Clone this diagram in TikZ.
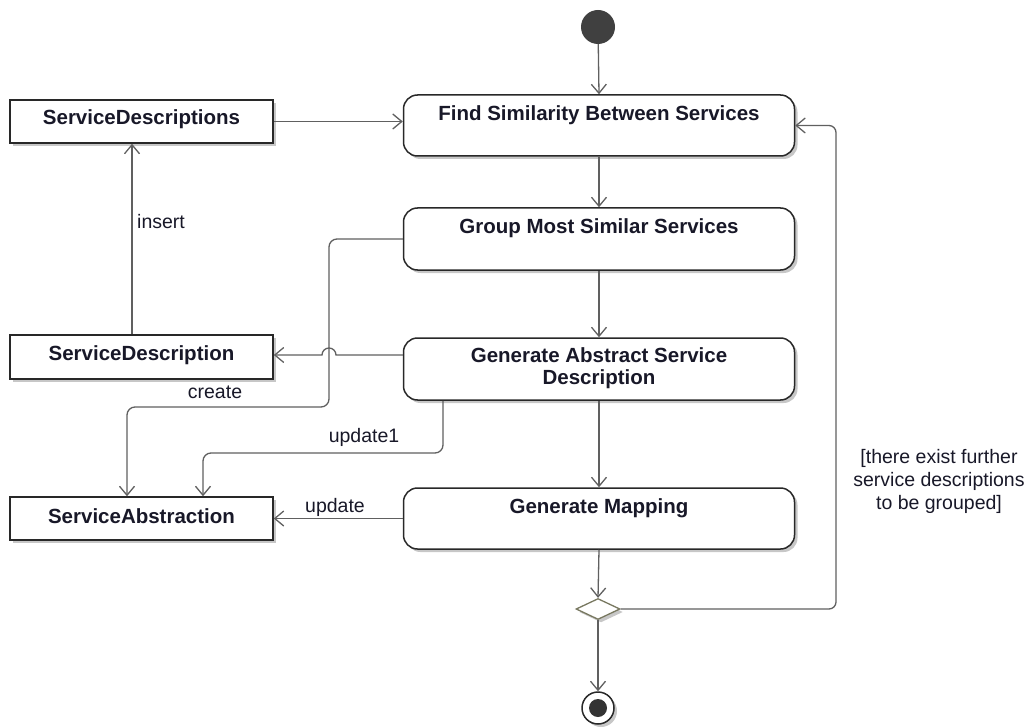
\documentclass[tikz,border=0pt]{standalone}
\usepackage{fontspec}
\setmainfont{Liberation Sans}
\usetikzlibrary{arrows.meta,shadows,shapes.geometric,calc}

\definecolor{edge}{RGB}{96,96,96}
\definecolor{frame}{RGB}{40,40,40}
\definecolor{ink}{RGB}{24,24,40}
\definecolor{olive}{RGB}{120,120,96}

\begin{document}
\begin{tikzpicture}[x=1pt,y=-1pt,
  shadowed/.style={drop shadow={shadow xshift=3pt,shadow yshift=-3pt,fill=black!22,opacity=1}},
  objbox/.style={draw=frame,line width=1.5pt,fill=white,minimum width=263pt,inner sep=0pt,shadowed},
  action/.style={draw=frame,line width=1.5pt,fill=white,rounded corners=14pt,
    minimum width=391pt,inner sep=0pt,shadowed},
  flow/.style={draw=edge,line width=1.3pt,-{Straight Barb[length=9pt,width=15pt]}},
  btxt/.style={font=\fontsize{20.5}{22.5}\selectfont\bfseries,text=ink,inner sep=0pt,align=center},
  lbl/.style={font=\fontsize{19.5}{23}\selectfont,text=ink,inner sep=0pt,align=center}]

\useasboundingbox (0,0) rectangle (1027,727);

% initial and final nodes
\node[circle,fill=black!75,minimum size=34pt,inner sep=0pt] (start) at (598,27) {};
\node[circle,draw=frame,line width=1.5pt,fill=white,minimum size=32pt,inner sep=0pt,shadowed] (end) at (598,708) {};
\node[circle,fill=black!80,minimum size=18pt,inner sep=0pt] (endin) at (end.center) {};

% actions
\node[action,minimum height=61pt] (find)  at (599,125.5) {};
\node[action,minimum height=62pt] (group) at (599,239) {};
\node[action,minimum height=62pt] (gasd)  at (599,369) {};
\node[action,minimum height=61pt] (gm)    at (599,518.5) {};

\node[btxt] (findT)  at ([yshift=-20.5pt]find.north)  {Find Similarity Between Services};
\node[btxt] (groupT) at ([yshift=-21pt]group.north) {Group Most Similar Services};
\node[btxt,anchor=north] (gasdT) at ([yshift=-10pt]gasd.north) {Generate Abstract Service\\Description};
\node[btxt] (gmT)    at ([yshift=-20.5pt]gm.north)    {Generate Mapping};

% object nodes
\node[objbox,minimum height=43pt] (sds) at (141.5,121.5) {};
\node[objbox,minimum height=44pt] (sd)  at (141.5,357) {};
\node[objbox,minimum height=43pt] (sa)  at (141.5,518.5) {};

\node[btxt] (sdsT) at ([yshift=2pt]sds.center) {ServiceDescriptions};
\node[btxt] (sdT)  at ([yshift=2pt]sd.center)  {ServiceDescription};
\node[btxt] (saT)  at ([yshift=2pt]sa.center)  {ServiceAbstraction};

% decision
\node[diamond,draw=olive,line width=1.3pt,fill=white,minimum width=44pt,minimum height=21pt,
  inner sep=0pt,shadowed] (dec) at (598,609) {};

% helper coordinates for bends
\coordinate (insX) at (132,0);
\coordinate (crX)  at (127,0);
\coordinate (upX)  at (203,0);
\coordinate (gX)   at (443,0);
\coordinate (loopX) at (836,0);

% control flow
\draw[flow] (start) -- (find.north);
\draw[flow] (find.south) -- (group.north);
\draw[flow] (group.south) -- (gasd.north);
\draw[flow] (gasd.south) -- (gm.north);
\draw[flow] (gm.south) -- (dec.north);
\draw[flow] (dec.south) -- (end.north);
\draw[flow,rounded corners=7pt] (dec.east) -- (loopX |- dec.east) -- (loopX |- find.east) -- (find.east);

% object flows
\draw[flow] (sds.east) -- (find.west |- sds.east);
\draw[flow] (insX |- sd.north) -- (insX |- sds.south);
\node[lbl,anchor=west] (insL) at (137,222) {insert};

\draw[flow] (gasd.west |- 0,355) -- (336,355) arc[start angle=0,end angle=180,radius=7pt] -- (sd.east |- 0,355);

\draw[flow,rounded corners=8pt] (group.west) -- (329,239) -- (329,407) -- (crX |- 0,407) -- (crX |- sa.north);
\node[lbl] (crL) at (215,392) {create};

\draw[flow,rounded corners=8pt] (gX |- gasd.south) -- (443,453) -- (upX |- 0,453) -- (upX |- sa.north);
\node[lbl] (up1L) at (364,437) {update1};

\draw[flow] (gm.west) -- (sa.east);
\node[lbl] (upL) at (335,507) {update};

% guard
\node[lbl] (guard) at (939,481) {[there exist further\\service descriptions\\to be grouped]};

\end{tikzpicture}
\end{document}
